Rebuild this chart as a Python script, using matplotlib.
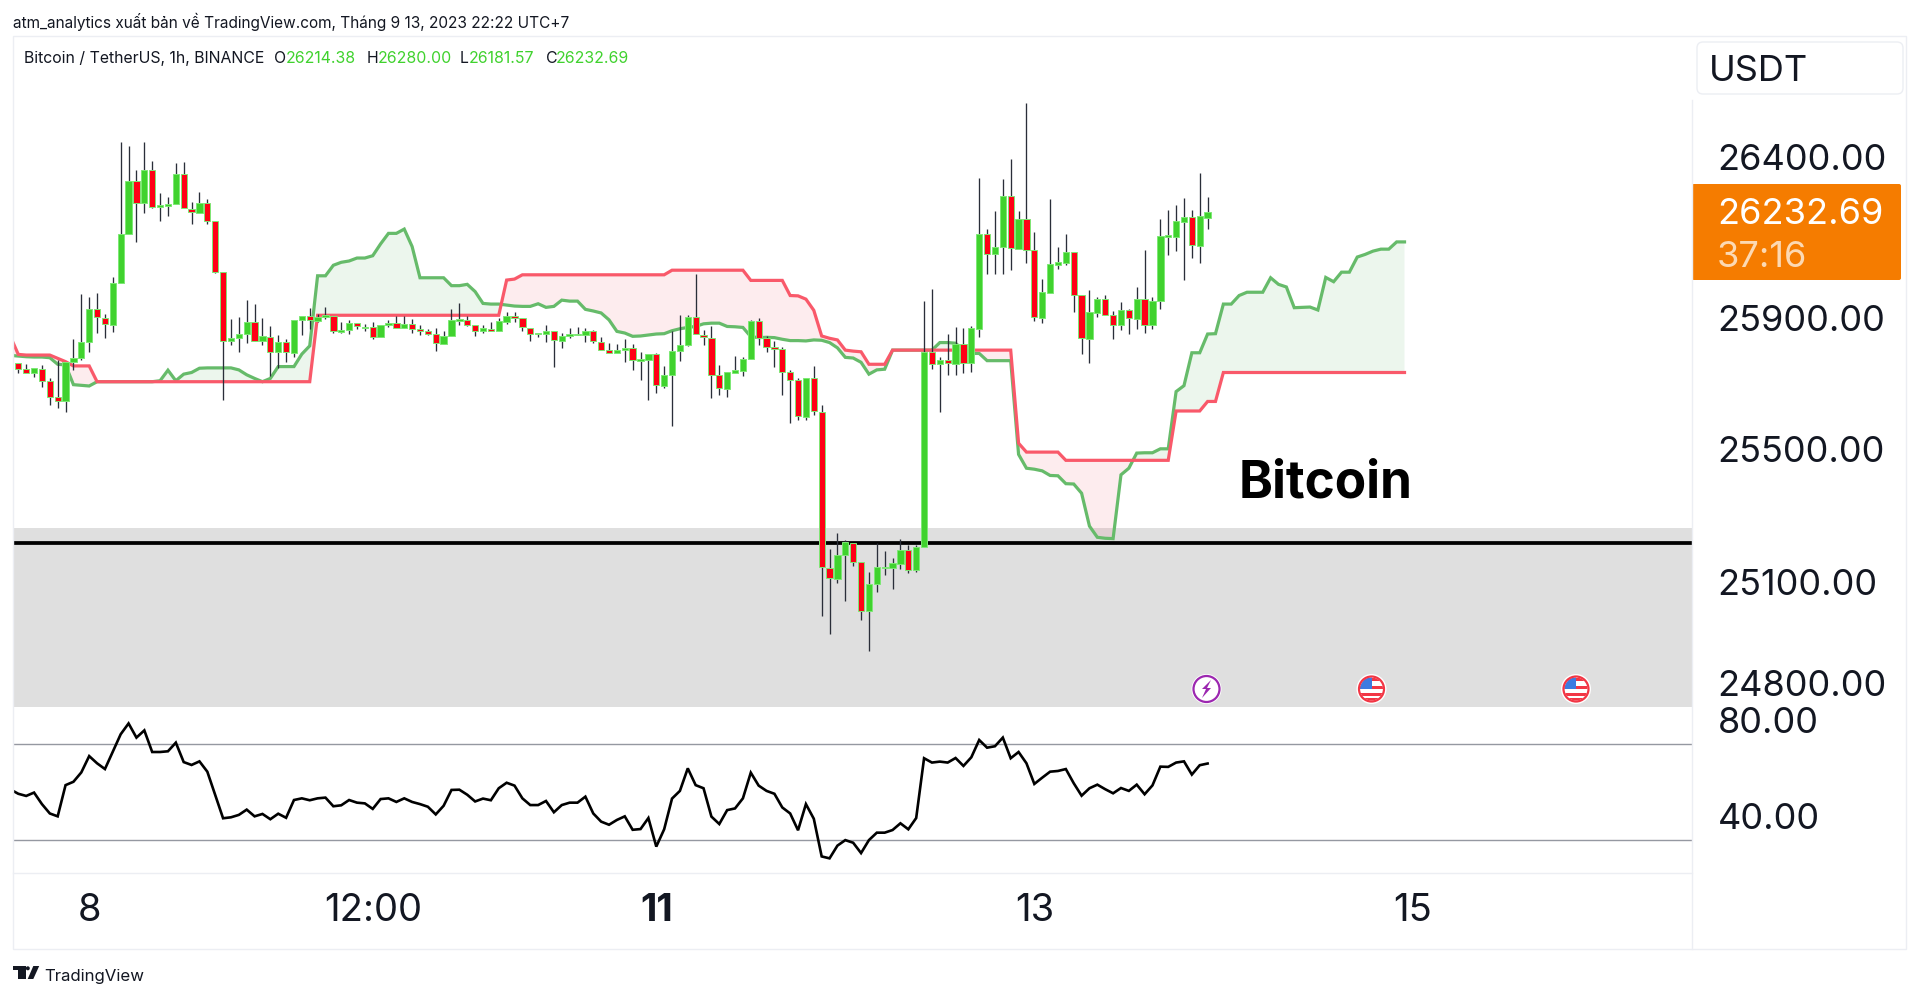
import numpy as np
import matplotlib
matplotlib.use('Agg')
from matplotlib import pyplot as plt
from matplotlib.patches import Rectangle, Circle, Polygon, FancyBboxPatch

plt.rcParams['font.family'] = ['Inter', 'DejaVu Sans']

# hourly candles
opens = [25773, 25755, 25744, 25757, 25718, 25670, 25657, 25778, 25788, 25839,
         25939, 25912, 25890, 26016, 26165, 26326, 26259, 26361, 26249, 26252,
         26258, 26348, 26243, 26231, 26259, 26206, 26051, 25841, 25849, 25863,
         25898, 25841, 25854, 25806, 25838, 25805, 25906, 25916, 25903, 25915,
         25917, 25869, 25873, 25897, 25880, 25883, 25854, 25890, 25894, 25881,
         25892, 25878, 25872, 25863, 25833, 25856, 25903, 25906, 25888, 25872,
         25878, 25872, 25900, 25917, 25910, 25880, 25863, 25863, 25870, 25842,
         25856, 25860, 25860, 25872, 25839, 25813, 25805, 25812, 25819, 25781,
         25783, 25800, 25705, 25737, 25809, 25829, 25913, 25860, 25851, 25736,
         25696, 25745, 25751, 25787, 25901, 25850, 25822, 25816, 25746, 25721,
         25611, 25727, 25626, 25152, 25118, 25190, 25228, 25168, 25020, 25103,
         25152, 25152, 25164, 25205, 25145, 25216, 25807, 25771, 25782, 25772,
         25831, 25775, 25878, 26165, 26104, 26128, 26281, 26121, 26211, 26117,
         25912, 25988, 26073, 26079, 26110, 25980, 25848, 25927, 25967, 25919,
         25888, 25935, 25909, 25967, 25890, 25962, 26158, 26158, 26204, 26217,
         26131, 26214.38]
highs = [25773, 25771, 25758, 25767, 25727, 25783, 25777, 25846, 25984, 25974,
         25986, 25923, 26034, 26445, 26434, 26361, 26447, 26388, 26290, 26278,
         26383, 26386, 26263, 26293, 26272, 26206, 26051, 25907, 25915, 25964,
         25953, 25910, 25887, 25859, 25846, 25906, 25917, 25941, 25923, 25943,
         25917, 25900, 25905, 25897, 25891, 25898, 25890, 25905, 25917, 25917,
         25907, 25890, 25876, 25879, 25871, 25937, 25955, 25917, 25888, 25890,
         25899, 25910, 25929, 25929, 25910, 25880, 25865, 25890, 25870, 25864,
         25879, 25882, 25879, 25874, 25854, 25836, 25831, 25846, 25832, 25807,
         25800, 25803, 25765, 25872, 25920, 25920, 26044, 25874, 25887, 25768,
         25747, 25796, 25793, 25905, 25910, 25856, 25841, 25822, 25753, 25727,
         25727, 25765, 25646, 25207, 25256, 25236, 25228, 25168, 25138, 25226,
         25202, 25181, 25240, 25221, 25221, 25961, 25998, 25793, 25862, 25883,
         25881, 25887, 26335, 26181, 26236, 26333, 26393, 26236, 26563, 26173,
         26029, 26273, 26126, 26166, 26110, 25980, 25996, 25975, 25981, 25933,
         25959, 25938, 26005, 26118, 25976, 26211, 26238, 26253, 26275, 26238,
         26353, 26280.00]
lows = [25743, 25743, 25730, 25702, 25646, 25638, 25626, 25753, 25783, 25806,
        25864, 25849, 25869, 26016, 26165, 26143, 26231, 26246, 26206, 26222,
        26258, 26244, 26197, 26231, 26197, 26047, 25660, 25829, 25806, 25836,
        25841, 25829, 25733, 25758, 25778, 25793, 25859, 25878, 25900, 25909,
        25866, 25864, 25862, 25878, 25872, 25846, 25854, 25882, 25879, 25881,
        25866, 25859, 25859, 25809, 25833, 25856, 25890, 25887, 25857, 25864,
        25872, 25872, 25891, 25900, 25872, 25841, 25853, 25838, 25761, 25821,
        25850, 25860, 25838, 25836, 25814, 25805, 25805, 25778, 25753, 25722,
        25660, 25684, 25699, 25583, 25781, 25826, 25861, 25829, 25666, 25677,
        25671, 25745, 25733, 25787, 25830, 25808, 25763, 25676, 25590, 25600,
        25600, 25616, 25005, 24949, 25106, 25051, 25158, 24992, 24897, 25079,
        25129, 25087, 25148, 25136, 25140, 25216, 25755, 25624, 25736, 25736,
        25745, 25748, 25854, 26043, 26044, 26044, 26057, 26121, 26079, 25903,
        25894, 25988, 26061, 26073, 25930, 25801, 25775, 25915, 25919, 25848,
        25874, 25862, 25878, 25866, 25878, 25938, 26102, 26115, 26026, 26093,
        26077, 26181.57]
closes = [25755, 25745, 25758, 25720, 25671, 25658, 25777, 25788, 25838, 25939,
          25913, 25891, 26016, 26165, 26326, 26260, 26361, 26249, 26253, 26257,
          26349, 26244, 26232, 26259, 26207, 26052, 25841, 25850, 25863, 25898,
          25841, 25855, 25806, 25838, 25806, 25906, 25917, 25904, 25914, 25919,
          25870, 25874, 25897, 25886, 25883, 25854, 25890, 25895, 25879, 25892,
          25878, 25872, 25862, 25834, 25856, 25905, 25907, 25888, 25872, 25879,
          25872, 25901, 25916, 25911, 25882, 25863, 25865, 25870, 25843, 25856,
          25862, 25862, 25872, 25840, 25814, 25805, 25812, 25820, 25782, 25785,
          25800, 25706, 25738, 25810, 25830, 25913, 25861, 25852, 25736, 25697,
          25747, 25752, 25787, 25902, 25851, 25823, 25816, 25747, 25721, 25612,
          25727, 25628, 25153, 25119, 25189, 25229, 25168, 25020, 25102, 25153,
          25154, 25165, 25205, 25146, 25215, 25807, 25771, 25783, 25773, 25832,
          25775, 25879, 26166, 26105, 26128, 26282, 26122, 26211, 26117, 25913,
          25990, 26075, 26081, 26111, 25980, 25849, 25929, 25967, 25919, 25889,
          25935, 25910, 25967, 25890, 25962, 26161, 26162, 26205, 26218, 26132,
          26220, 26232.69]

# ichimoku spans, one value per bar starting one bar left of the first candle
span_b = ([25854, 25800] + [25798] * 4 + [25788, 25778] + [25765] * 3 + [25717] * 28 +
          [25919] * 24 + [26026, 26029] + [26042] * 19 + [26056] * 10 + [26025] * 5 +
          [25979, 25978, 25968, 25934, 25856, 25849, 25844, 25813, 25810, 25808] +
          [25770] * 3 + [25813] * 16 + [25530] + [25503] * 5 + [25478] * 14 +
          [25628] * 4 + [25657] * 2 + [25745] * 24)
span_a = [25797, 25795, 25793, 25792, 25792, 25790, 25770, 25768, 25708, 25706, 25704,
          25717, 25717, 25717, 25717, 25717, 25717, 25717, 25717, 25720, 25752, 25720,
          25740, 25745, 25758, 25759, 25759, 25759, 25759, 25753, 25738, 25727, 25717,
          25727, 25763, 25763, 25763, 25801, 25826, 26039, 26039, 26071, 26080, 26084,
          26093, 26093, 26100, 26136, 26168, 26168, 26181, 26128, 26033, 26033, 26033,
          26033, 26009, 26009, 26013, 25991, 25955, 25953, 25953, 25950, 25947, 25946,
          25946, 25954, 25943, 25946, 25965, 25962, 25962, 25937, 25932, 25926, 25905,
          25870, 25865, 25855, 25856, 25859, 25862, 25863, 25872, 25878, 25882, 25885,
          25893, 25895, 25895, 25885, 25884, 25882, 25854, 25851, 25852, 25851, 25846,
          25842, 25842, 25841, 25844, 25843, 25836, 25820, 25791, 25789, 25776, 25740,
          25753, 25755, 25813, 25813, 25813, 25813, 25813, 25813, 25836, 25836, 25834,
          25813, 25803, 25803, 25781, 25781, 25781, 25781, 25496, 25454, 25451, 25446,
          25432, 25431, 25407, 25406, 25378, 25278, 25244, 25241, 25240, 25434, 25454,
          25500, 25501, 25501, 25513, 25513, 25687, 25705, 25805, 25805, 25862, 25863,
          25953, 25953, 25979, 25989, 25989, 25989, 26033, 26013, 26005, 25942, 25943,
          25944, 25935, 26034, 26021, 26050, 26050, 26096, 26104, 26114, 26120, 26120,
          26142, 26142]

# lower pane oscillator, also starting one bar left
rsi = [51.2, 49.4, 48.5, 49.9, 45.1, 41.2, 40.0, 53.0, 54.4, 58.3, 65.1, 62.1, 59.7,
       66.9, 74.2, 78.7, 72.8, 75.8, 66.8, 66.8, 67.1, 70.7, 62.6, 61.4, 62.9, 58.6,
       48.9, 39.2, 39.6, 40.6, 42.8, 40.0, 41.0, 38.8, 41.1, 39.4, 46.8, 47.5, 46.7,
       47.5, 47.8, 44.2, 44.6, 46.8, 45.7, 45.4, 43.1, 47.2, 47.5, 46.0, 47.5, 46.0,
       45.1, 44.0, 40.8, 44.4, 51.0, 51.1, 49.0, 46.2, 47.4, 46.7, 51.7, 54.0, 52.8,
       47.5, 44.7, 44.7, 46.4, 41.7, 44.7, 45.7, 45.7, 48.2, 41.2, 37.8, 36.5, 38.5,
       40.0, 34.4, 34.7, 39.3, 27.4, 34.6, 47.4, 50.6, 60.0, 53.0, 51.7, 39.9, 36.8,
       42.6, 43.3, 47.5, 58.2, 52.8, 50.6, 49.4, 43.7, 41.2, 34.2, 45.1, 39.0, 23.3,
       22.5, 27.8, 30.1, 29.0, 24.7, 30.1, 33.2, 33.2, 34.3, 37.1, 34.6, 39.3, 64.2,
       62.4, 62.8, 62.4, 64.3, 61.0, 64.6, 71.8, 68.6, 69.2, 72.8, 64.2, 66.8, 62.1,
       53.5, 56.1, 58.6, 58.9, 59.7, 53.8, 48.6, 51.7, 53.2, 51.3, 49.6, 51.8, 50.6,
       53.2, 49.2, 52.9, 60.7, 60.6, 62.4, 62.9, 57.4, 61.3, 62.0]

price_ticks = [26400, 25900, 25500, 25100, 24800]
price_labels = ['26400.00', '25900.00', '25500.00', '25100.00', '24800.00']
rsi_ticks = [80, 40]
rsi_labels = ['80.00', '40.00']
time_ticks = [9, 45, 81, 129, 177]
time_labels = ['8', '12:00', '11', '13', '15']
support = 25228
zone_top = 25272

TEXT = '#131722'
GREEN = '#40d22e'
RED = '#ff0016'
W, H = 1920, 996


def rect(l, t, r, b):
    return [l / W, 1 - b / H, (r - l) / W, (b - t) / H]


def tick_pos(p):
    # the original price scale is logarithmic, the axes here are linear
    return 26400 - 3.04 * 8420 * np.log(26400 / p)


fig = plt.figure(figsize=(19.2, 9.96), dpi=100)
ax = fig.add_axes(rect(13, 36, 1692, 706.7))
ax2 = fig.add_axes(rect(13, 706.7, 1692, 873))

# price pane
ax.axhspan(24000, zone_top, color='#dfdfdf', lw=0, zorder=1)

idx = np.arange(len(opens))
o = np.array(opens)
c = np.array(closes)
span_x = np.arange(-1, len(span_a) - 1)
a = np.array(span_a)
b = np.array(span_b)
ax.fill_between(span_x, a, b, where=a >= b, interpolate=True, color='#4caf50', alpha=0.10, lw=0, zorder=2)
ax.fill_between(span_x, a, b, where=a <= b, interpolate=True, color='#f23645', alpha=0.09, lw=0, zorder=2)
ax.plot(span_x, a, color='#66bb6a', lw=2.3, zorder=3, solid_joinstyle='miter')
ax.plot(span_x, b, color='#f9596a', lw=2.3, zorder=3, solid_joinstyle='miter')
ax.axhline(support, color='black', lw=2.7, zorder=4)

ax.vlines(idx, lows, highs, color='#2a2e39', lw=0.95, zorder=5)
cols = [GREEN if y >= x else RED for x, y in zip(o, c)]
ax.bar(idx, np.abs(c - o), bottom=np.minimum(o, c), width=0.8, color=cols,
       edgecolor='#7de875', linewidth=0.7, zorder=6)

ax.set_xlim(-0.673, 212.5)
ax.set_ylim(24729, 26768)
ax.set_xticks([])
ax.yaxis.tick_right()
ax.set_yticks([tick_pos(p) for p in price_ticks], price_labels, fontsize=26, color=TEXT)
ax.tick_params(axis='y', length=0, pad=18.5)
for s in ax.spines.values():
    s.set_visible(False)

# oscillator pane
ax2.axhline(70, color='#9598a1', lw=1)
ax2.axhline(30, color='#9598a1', lw=1)
ax2.plot(np.arange(-1, len(rsi) - 1), rsi, color='black', lw=1.9, solid_joinstyle='miter')
ax2.set_xlim(-0.673, 212.5)
ax2.set_ylim(16.4, 85.67)
ax2.yaxis.tick_right()
ax2.set_yticks(rsi_ticks, rsi_labels, fontsize=26, color=TEXT)
ax2.set_xticks(time_ticks, time_labels, fontsize=27.5, color=TEXT)
ax2.get_xticklabels()[2].set_fontweight('bold')
ax2.tick_params(axis='y', length=0, pad=18.5)
ax2.tick_params(axis='x', length=0, pad=14.5)
for s in ax2.spines.values():
    s.set_visible(False)

# page furniture, drawn in pixel coordinates on top
top = fig.add_axes([0, 0, 1, 1], zorder=10)
top.set_xlim(0, W)
top.set_ylim(H, 0)
top.axis('off')
top.patch.set_alpha(0)

BORDER = '#eceef3'
top.add_patch(Rectangle((13, 36), 1893, 913, fill=False, ec=BORDER, lw=1))
top.plot([1692, 1692], [100, 949], color=BORDER, lw=1)
top.plot([13, 1692], [873, 873], color=BORDER, lw=1)
top.add_patch(FancyBboxPatch((1699, 44), 202, 48, boxstyle='round,pad=2,rounding_size=6',
                             fc='white', ec=BORDER, lw=1))
top.text(1709, 68, 'USDT', fontsize=26, color=TEXT, va='center_baseline')
top.add_patch(FancyBboxPatch((1693, 185), 207, 94, boxstyle='round,pad=1,rounding_size=2',
                             fc='#f57c00', ec='none'))
top.text(1717, 210.5, '26232.69', fontsize=26, color='white', va='center_baseline')
top.text(1717, 254, '37:16', fontsize=26, color='#fcd9b3', va='center_baseline')
top.text(1239, 478, 'Bitcoin', fontsize=37, fontweight='bold', color='black', va='center_baseline')

top.text(13, 20, 'atm_analytics xuất bản về TradingView.com, Tháng 9 13, 2023 22:22 UTC+7',
         fontsize=11.08, color=TEXT, va='center_baseline')
top.text(24, 56.5, 'Bitcoin / TetherUS, 1h, BINANCE', fontsize=11.4, color=TEXT, va='center_baseline')
legend_bits = [(274, 'O', TEXT), (286, '26214.38', GREEN), (367, 'H', TEXT), (378, '26280.00', GREEN),
               (460, 'L', TEXT), (469, '26181.57', GREEN), (546, 'C', TEXT), (556, '26232.69', GREEN)]
for px, s, col in legend_bits:
    top.text(px, 56.5, s, fontsize=11.4, color=col, va='center_baseline')

# event icons
top.add_patch(Circle((1206.5, 689), 15, fc='white', ec='none'))
top.add_patch(Circle((1206.5, 689), 13, fc='none', ec='#9c27b0', lw=1.6))
top.add_patch(Polygon([(1211, 680), (1202, 689), (1206, 689), (1202, 698), (1211, 688), (1207, 688)],
                      fc='#9c27b0', ec='none'))
for cx in (1371.5, 1576):
    top.add_patch(Circle((cx, 689), 15, fc='white', ec='none'))
    clip = Circle((cx, 689), 11.5, transform=top.transData)
    for st in (-11, -3.5, 4, 8.5):
        top.add_patch(Rectangle((cx - 12, 689 + st), 24, 3, fc='#f23645', ec='none', clip_path=clip))
    top.add_patch(Rectangle((cx - 12, 677), 12, 12, fc='#3d7be0', ec='none', clip_path=clip))
    top.add_patch(Circle((cx, 689), 12.5, fc='none', ec='#f23645', lw=1.6))

# TradingView logo
top.add_patch(Polygon([(13.3, 966), (25.7, 966), (25.7, 979), (18.3, 979), (18.3, 969.5), (13.3, 969.5)],
                      fc=TEXT, ec='none'))
top.add_patch(Circle((27.8, 968.3), 2, fc=TEXT, ec='none'))
top.add_patch(Polygon([(33.3, 966), (39.2, 966), (33.3, 979), (27.7, 979)], fc=TEXT, ec='none'))
top.text(44.5, 974.5, 'TradingView', fontsize=12.1, color=TEXT, va='center_baseline')

fig.savefig('out.png', dpi=100)
